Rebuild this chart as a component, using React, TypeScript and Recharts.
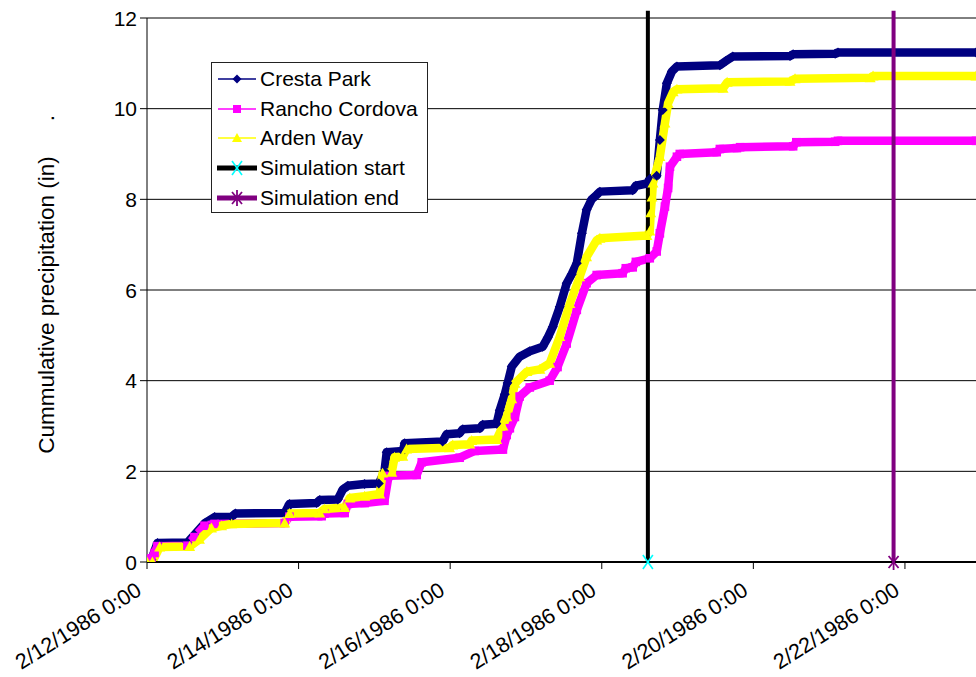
import React from 'react';
import { LineChart, Line, XAxis, YAxis, CartesianGrid, ReferenceLine, ReferenceDot, Legend } from 'recharts';

// ---- data (hours since 2/12/1986 0:00, cumulative inches) ----
const hourTicks = [0, 48, 96, 144, 192, 240];
const xTickLabels = ['2/12/1986 0:00', '2/14/1986 0:00', '2/16/1986 0:00', '2/18/1986 0:00', '2/20/1986 0:00', '2/22/1986 0:00'];
const yTicks = [0, 2, 4, 6, 8, 10, 12];

const crestaHours = [0, 1.4, 3.3, 12.8, 15, 18.2, 21.4, 26.8, 28, 43.6, 45.1, 53.7, 54.7, 60.4, 62, 63.6, 68.9, 73.4, 75.2, 75.9, 81, 81.6, 93.6, 94.9, 99, 100, 105.4, 106.3, 110.7, 111.7, 113.3, 114.2, 115.5, 118, 121.2, 125.3, 126.9, 128.5, 130.7, 132.9, 134.5, 136.1, 137.7, 139.2, 140.8, 142.4, 143.4, 153.8, 154.8, 158.3, 159.2, 161.4, 162.4, 163.3, 164.6, 166.2, 167.8, 181.4, 183.3, 185.5, 203.6, 204.6, 217.9, 218.8, 262.5];
const crestaValues = [0, 0.05, 0.42, 0.43, 0.6, 0.85, 0.99, 1.0, 1.07, 1.08, 1.28, 1.3, 1.37, 1.38, 1.6, 1.68, 1.72, 1.73, 2.0, 2.42, 2.45, 2.62, 2.66, 2.82, 2.84, 2.93, 2.95, 3.03, 3.05, 3.35, 3.7, 3.95, 4.31, 4.53, 4.65, 4.75, 4.95, 5.19, 5.63, 6.15, 6.35, 6.59, 7.25, 7.77, 8.0, 8.1, 8.17, 8.2, 8.3, 8.35, 8.45, 8.52, 9.31, 9.97, 10.56, 10.82, 10.93, 10.96, 11.05, 11.15, 11.16, 11.2, 11.21, 11.24, 11.24];

const ranchoHours = [0, 0.5, 1.4, 2.4, 3.3, 12.8, 15, 18.2, 21.4, 43.6, 45.1, 55.3, 56.2, 62.6, 63.6, 68.9, 75.2, 76.5, 85.4, 87, 99, 103.8, 112.7, 113.9, 114.9, 116.5, 118, 121.2, 127.5, 130, 132.9, 136.1, 139.2, 142.4, 150.6, 151.6, 153.8, 154.8, 159.2, 161.4, 162.4, 164, 165, 165.6, 167.8, 168.7, 180.4, 181.4, 186.8, 187.8, 204.6, 205.6, 217.9, 218.8, 262.5];
const ranchoValues = [0, 0.05, 0.08, 0.2, 0.35, 0.36, 0.55, 0.8, 0.84, 0.86, 1.0, 1.01, 1.07, 1.08, 1.28, 1.3, 1.35, 1.9, 1.92, 2.2, 2.3, 2.45, 2.48, 2.8, 2.95, 3.2, 3.65, 3.85, 4.0, 4.3, 4.82, 5.56, 6.15, 6.33, 6.37, 6.48, 6.5, 6.62, 6.7, 6.85, 7.25, 7.84, 8.25, 8.72, 8.94, 9.0, 9.04, 9.11, 9.13, 9.15, 9.17, 9.26, 9.27, 9.29, 9.29];

const ardenHours = [0, 1.7, 4, 13.5, 16.6, 20.4, 23.6, 26.8, 43.6, 45.1, 54.7, 56.2, 62.6, 64.2, 68.9, 73.7, 74.6, 77.5, 78.4, 81, 82.2, 95.8, 96.8, 102.2, 102.8, 110.7, 112.7, 113.9, 115.5, 116.5, 120.3, 124.4, 127.5, 130.7, 133.9, 137, 139.2, 142.4, 143.4, 158.3, 159.2, 159.5, 159.9, 160.2, 162.4, 164, 165, 166.6, 167.8, 182.4, 183.7, 203.6, 205.2, 229, 229.9, 262.5];
const ardenValues = [0, 0, 0.33, 0.34, 0.5, 0.75, 0.8, 0.84, 0.86, 1.07, 1.08, 1.17, 1.2, 1.41, 1.45, 1.5, 1.96, 1.98, 2.31, 2.33, 2.49, 2.52, 2.58, 2.6, 2.68, 2.7, 3.0, 3.2, 3.6, 3.94, 4.2, 4.25, 4.38, 4.97, 5.7, 6.29, 6.73, 7.1, 7.14, 7.2, 7.3, 7.7, 8.05, 8.36, 8.94, 9.68, 10.12, 10.37, 10.43, 10.45, 10.58, 10.6, 10.66, 10.68, 10.72, 10.72];

const simStartHour = 158.6;
const simEndHour = 236.4;
const simLineTop = 12.16;

const crestaData = crestaHours.map((h, i) => ({ h, v: crestaValues[i] }));
const ranchoData = ranchoHours.map((h, i) => ({ h, v: ranchoValues[i] }));
const ardenData = ardenHours.map((h, i) => ({ h, v: ardenValues[i] }));

// ---- styles ----
const FONT = '"Liberation Sans", Arial, sans-serif';
const NAVY = '#000080';
const MAGENTA = '#FF00FF';
const YELLOW = '#FFFF00';
const PURPLE = '#800080';
const CYAN = '#00FFFF';

const diamond = (cx: number, cy: number, r: number, fill: string, key?: any) => (
  <path key={key} d={`M${cx},${cy - r}L${cx + r},${cy}L${cx},${cy + r}L${cx - r},${cy}Z`} fill={fill} />
);
const square = (cx: number, cy: number, r: number, fill: string, key?: any) => (
  <rect key={key} x={cx - r} y={cy - r} width={2 * r} height={2 * r} fill={fill} />
);
const triangle = (cx: number, cy: number, r: number, fill: string, key?: any) => (
  <path key={key} d={`M${cx},${cy - r}L${cx + r},${cy + r * 0.8}L${cx - r},${cy + r * 0.8}Z`} fill={fill} />
);
const xMark = (cx: number, cy: number, color: string, key?: any) => (
  <g key={key}>
    <line x1={cx - 5} y1={cy - 7} x2={cx + 5} y2={cy + 7} stroke={color} strokeWidth={1.6} />
    <line x1={cx - 5} y1={cy + 7} x2={cx + 5} y2={cy - 7} stroke={color} strokeWidth={1.6} />
  </g>
);
const starMark = (cx: number, cy: number, color: string, key?: any) => (
  <g key={key}>
    <line x1={cx - 5} y1={cy - 6} x2={cx + 5} y2={cy + 6} stroke={color} strokeWidth={1.8} />
    <line x1={cx - 5} y1={cy + 6} x2={cx + 5} y2={cy - 6} stroke={color} strokeWidth={1.8} />
    <line x1={cx} y1={cy - 8} x2={cx} y2={cy + 8} stroke={color} strokeWidth={1.8} />
  </g>
);

const XTick = (props: any) => {
  const { x, y, payload } = props;
  const idx = hourTicks.indexOf(payload.value);
  const ax = x - 4;
  const ay = y + 25;
  return (
    <text x={ax} y={ay} textAnchor="end" fontSize={21.5} fontFamily={FONT} fill="#000" transform={`rotate(-32, ${ax}, ${ay})`}>
      {idx >= 0 ? xTickLabels[idx] : ''}
    </text>
  );
};

const YTick = (props: any) => {
  const { x, y, payload } = props;
  return (
    <text x={x} y={y} dy={7.5} textAnchor="end" fontSize={21} fontFamily={FONT} fill="#000">
      {payload.value}
    </text>
  );
};

const YLabel = () => (
  <g>
    <text x={54} y={305} textAnchor="middle" fontSize={22.5} fontFamily={FONT} fill="#000" transform="rotate(-90, 54, 305)">
      Cummulative precipitation (in)
    </text>
    <text x={54} y={118} textAnchor="middle" fontSize={22.5} fontFamily={FONT} fill="#000" transform="rotate(-90, 54, 118)">
      .
    </text>
  </g>
);

const legendItems = [
  { name: 'Cresta Park', kind: 'diamond' },
  { name: 'Rancho Cordova', kind: 'square' },
  { name: 'Arden Way', kind: 'triangle' },
  { name: 'Simulation start', kind: 'start' },
  { name: 'Simulation end', kind: 'end' },
];

const LegendIcon = ({ kind }: { kind: string }) => {
  const w = 40;
  const cy = 10;
  const cx = 20;
  let content: any = null;
  if (kind === 'diamond') content = (<g><line x1={1} y1={cy} x2={w - 1} y2={cy} stroke={NAVY} strokeWidth={1.5} />{diamond(cx, cy, 4.5, NAVY)}</g>);
  if (kind === 'square') content = (<g><line x1={1} y1={cy} x2={w - 1} y2={cy} stroke={MAGENTA} strokeWidth={1.5} />{square(cx, cy, 4, MAGENTA)}</g>);
  if (kind === 'triangle') content = (<g><line x1={1} y1={cy} x2={w - 1} y2={cy} stroke={YELLOW} strokeWidth={1.5} />{triangle(cx, cy, 5, YELLOW)}</g>);
  if (kind === 'start') content = (<g><line x1={0} y1={cy} x2={w} y2={cy} stroke="#000" strokeWidth={5} />{xMark(cx, cy, CYAN)}</g>);
  if (kind === 'end') content = (<g><line x1={0} y1={cy} x2={w} y2={cy} stroke={PURPLE} strokeWidth={5} />{starMark(cx, cy, PURPLE)}</g>);
  return <svg width={w} height={20} style={{ display: 'block' }}>{content}</svg>;
};

const LegendBox = () => (
  <div style={{ width: 217, height: 151, boxSizing: 'border-box', border: '1px solid #222', background: '#fff', paddingTop: 1, fontFamily: FONT, fontSize: 21, color: '#000' }}>
    {legendItems.map((it) => (
      <div key={it.name} style={{ display: 'flex', alignItems: 'center', height: 29.7, paddingLeft: 5 }}>
        <LegendIcon kind={it.kind} />
        <span style={{ marginLeft: 3, whiteSpace: 'nowrap', lineHeight: '22px' }}>{it.name}</span>
      </div>
    ))}
  </div>
);

const makeDot = (kind: string, color: string, r: number) => (p: any) => {
  const { cx, cy, index } = p;
  if (cx == null || cy == null) return <g key={`e-${index}`} />;
  if (kind === 'diamond') return diamond(cx, cy, r, color, `d-${index}`);
  if (kind === 'square') return square(cx, cy, r, color, `s-${index}`);
  return triangle(cx, cy, r, color, `t-${index}`);
};

export default function App() {
  return (
    <div style={{ position: 'absolute', left: 0, top: 0, width: 976, height: 677, background: '#fff', overflow: 'hidden' }}>
      <LineChart width={976} height={677} margin={{ top: 18, right: 0, bottom: 85, left: 0 }}>
        <CartesianGrid horizontal={true} vertical={false} stroke="#000" strokeWidth={1} />
        <XAxis
          dataKey="h"
          type="number"
          domain={[0, 262.5]}
          allowDataOverflow
          ticks={hourTicks}
          interval={0}
          height={30}
          tick={<XTick />}
          tickSize={7}
          tickMargin={0}
          axisLine={{ stroke: '#000', strokeWidth: 2 }}
          tickLine={{ stroke: '#000', strokeWidth: 1 }}
        />
        <YAxis
          type="number"
          domain={[0, 12]}
          allowDataOverflow
          ticks={yTicks}
          interval={0}
          width={147}
          tick={<YTick />}
          tickSize={7}
          tickMargin={3}
          axisLine={{ stroke: '#000', strokeWidth: 1 }}
          tickLine={{ stroke: '#000', strokeWidth: 1 }}
          label={{ content: () => <YLabel /> }}
        />
        <Line data={crestaData} dataKey="v" name="Cresta Park" stroke={NAVY} strokeWidth={8.5} strokeLinejoin="round" dot={makeDot('diamond', NAVY, 5)} isAnimationActive={false} />
        <Line data={ranchoData} dataKey="v" name="Rancho Cordova" stroke={MAGENTA} strokeWidth={8.5} strokeLinejoin="round" dot={makeDot('square', MAGENTA, 4.3)} isAnimationActive={false} />
        <Line data={ardenData} dataKey="v" name="Arden Way" stroke={YELLOW} strokeWidth={8.5} strokeLinejoin="round" dot={makeDot('triangle', YELLOW, 5.5)} isAnimationActive={false} />
        <ReferenceLine segment={[{ x: simStartHour, y: 0 }, { x: simStartHour, y: simLineTop }]} stroke="#000" strokeWidth={4} ifOverflow="visible" />
        <ReferenceLine segment={[{ x: simEndHour, y: 0 }, { x: simEndHour, y: simLineTop }]} stroke={PURPLE} strokeWidth={4} ifOverflow="visible" />
        <ReferenceDot x={simStartHour} y={0} ifOverflow="visible" shape={(p: any) => xMark(p.cx, p.cy, CYAN)} />
        <ReferenceDot x={simEndHour} y={0} ifOverflow="visible" shape={(p: any) => starMark(p.cx, p.cy, PURPLE)} />
        <Legend
          layout="vertical"
          align="center"
          verticalAlign="middle"
          wrapperStyle={{ left: 211, top: 62, width: 217, height: 151 }}
          content={() => <LegendBox />}
        />
      </LineChart>
    </div>
  );
}
